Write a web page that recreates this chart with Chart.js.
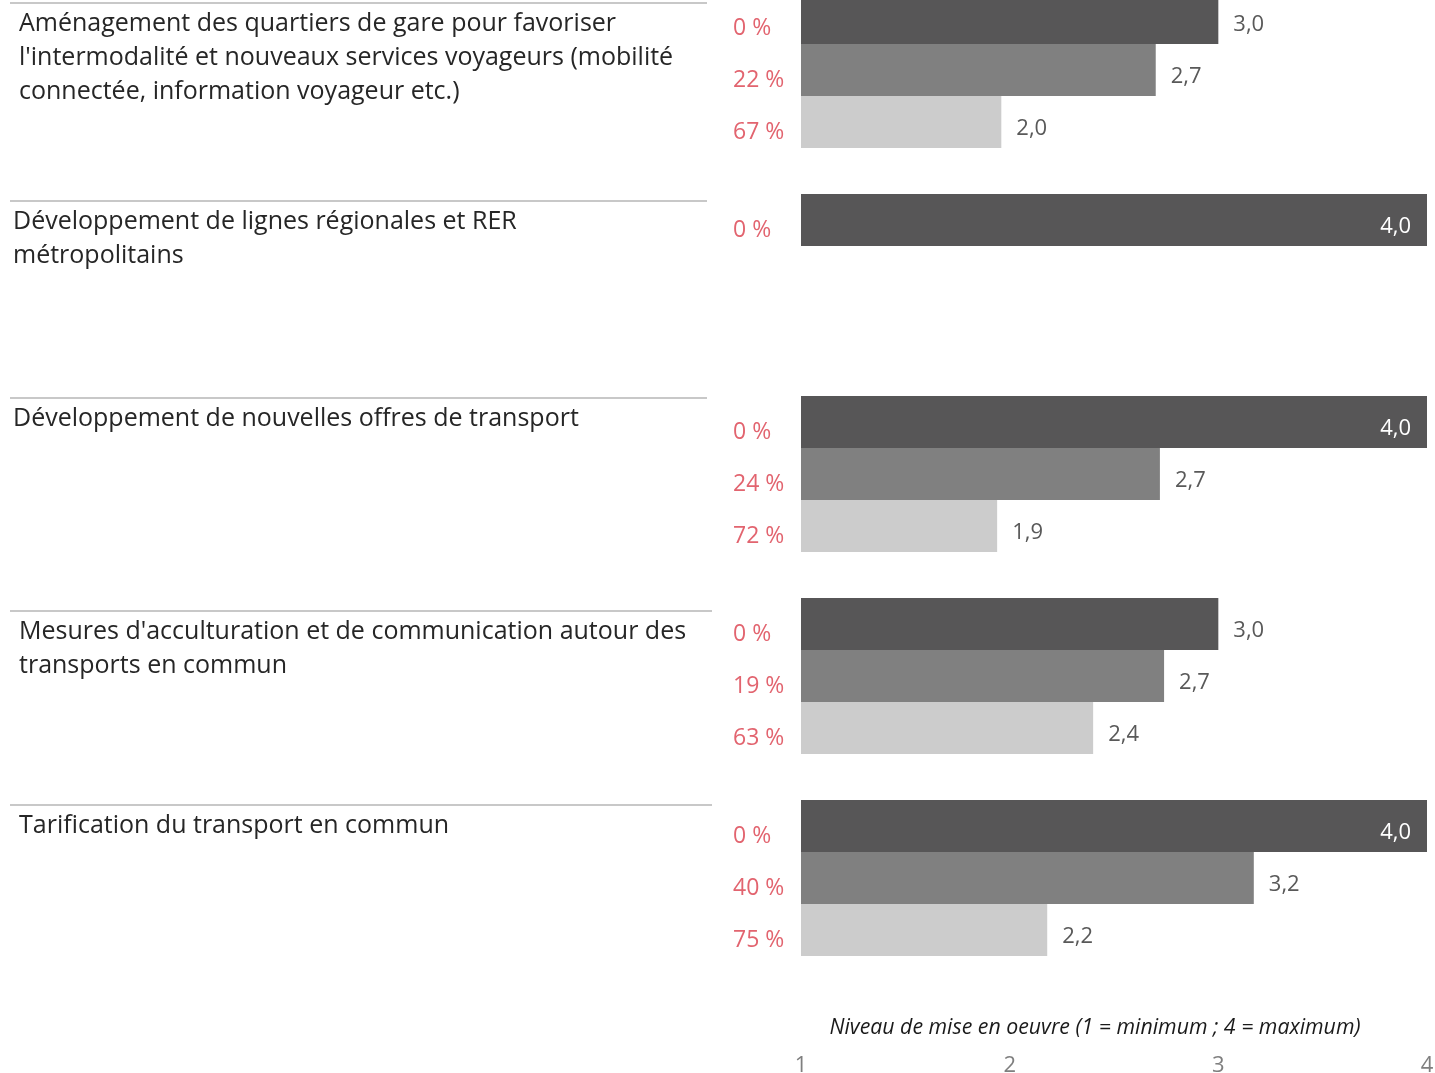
<!DOCTYPE html>
<html>
<head>
<meta charset="utf-8">
<script src="https://cdn.jsdelivr.net/npm/chart.js@4.4.1/dist/chart.umd.min.js"></script>
<style>
  html, body { margin: 0; padding: 0; background: #fff; overflow: hidden; }
  #wrap { position: relative; width: 1435px; height: 1073px; overflow: hidden; }
  #chart { position: absolute; left: 0; top: -31px; }
</style>
</head>
<body>
<div id="wrap"><canvas id="chart" width="1435" height="1104"></canvas></div>
<script>
// categories (already wrapped the way the original shows them)
const categories = [
  ["Aménagement des quartiers de gare pour favoriser", "l'intermodalité et nouveaux services voyageurs (mobilité", "connectée, information voyageur etc.)"],
  ["Développement de lignes régionales et RER", "métropolitains"],
  ["Développement de nouvelles offres de transport"],
  ["Mesures d'acculturation et de communication autour des", "transports en commun"],
  ["Tarification du transport en commun"]
];
// implementation level, one value per category
const seriesDark = [3.0, 4.0, 4.0, 3.0, 4.0];
const seriesMid = [2.70, null, 2.72, 2.74, 3.17];
const seriesLight = [1.96, null, 1.94, 2.40, 2.18];
// percentages shown left of each bar
const pctDark = [0, 0, 0, 0, 0];
const pctMid = [22, null, 24, 19, 40];
const pctLight = [67, null, 72, 63, 75];
const xTicks = [1, 2, 3, 4];
const xTitle = "Niveau de mise en oeuvre (1 = minimum ; 4 = maximum)";

const FONT = "'Open Sans', 'Noto Sans', sans-serif";
const pcts = [pctDark, pctMid, pctLight];

// small per-row nudges for the separator line above each label
const lineDy = [-67, -71, -76, -65, -73];
const labelX = [19, 13, 13, 19, 19];

const fmt = v => v.toFixed(1).replace('.', ',');

const labelsPlugin = {
  id: 'labels',
  afterDatasetsDraw(chart) {
    const ctx = chart.ctx;
    const xMax = chart.scales.x.max;
    ctx.save();
    ctx.textBaseline = 'middle';
    chart.data.datasets.forEach((ds, di) => {
      const meta = chart.getDatasetMeta(di);
      meta.data.forEach((bar, i) => {
        const v = ds.data[i];
        if (v == null) return;
        // percentage on the left
        ctx.font = '23px ' + FONT;
        ctx.fillStyle = '#e2646f';
        ctx.textAlign = 'left';
        ctx.fillText(pcts[di][i] + ' %', 733, bar.y + 10);
        // value at the end of the bar
        ctx.font = '22px ' + FONT;
        if (v >= xMax) {
          ctx.fillStyle = '#ffffff';
          ctx.textAlign = 'right';
          ctx.fillText(fmt(v), bar.x - 16, bar.y + 7);
        } else {
          ctx.fillStyle = '#595959';
          ctx.textAlign = 'left';
          ctx.fillText(fmt(v), bar.x + 15, bar.y + 7);
        }
      });
    });
    ctx.restore();
  },
  afterDraw(chart) {
    const ctx = chart.ctx;
    const y = chart.scales.y;
    ctx.save();
    categories.forEach((lines, i) => {
      const top = y.getPixelForValue(i) + lineDy[i];
      ctx.strokeStyle = '#c8c8c8';
      ctx.lineWidth = 2;
      ctx.beginPath();
      ctx.moveTo(10, top);
      ctx.lineTo(i >= 3 ? 712 : 707, top);
      ctx.stroke();
      ctx.fillStyle = '#262626';
      ctx.font = '25px ' + FONT;
      ctx.textAlign = 'left';
      ctx.textBaseline = 'middle';
      lines.forEach((t, k) => ctx.fillText(t, labelX[i], top + 21 + k * 34));
    });
    // axis title sits between the bars and the tick labels
    ctx.font = 'italic 21.3px ' + FONT;
    ctx.fillStyle = '#1a1a1a';
    ctx.textAlign = 'center';
    ctx.textBaseline = 'middle';
    ctx.fillText(xTitle, 1095, chart.chartArea.bottom + 49);
    ctx.restore();
  }
};

new Chart(document.getElementById('chart'), {
  type: 'bar',
  data: {
    labels: categories,
    datasets: [
      { label: 'Série 1', data: seriesDark, backgroundColor: '#575657' },
      { label: 'Série 2', data: seriesMid, backgroundColor: '#808080' },
      { label: 'Série 3', data: seriesLight, backgroundColor: '#cccccc' }
    ]
  },
  options: {
    indexAxis: 'y',
    responsive: false,
    animation: false,
    devicePixelRatio: 1,
    layout: { padding: { left: 801, right: 8, top: 0, bottom: 0 } },
    datasets: { bar: { categoryPercentage: 156 / 202, barPercentage: 1, borderWidth: 0 } },
    plugins: { legend: { display: false }, tooltip: { enabled: false } },
    scales: {
      y: { display: false },
      x: {
        min: xTicks[0],
        max: xTicks[xTicks.length - 1],
        afterBuildTicks: s => { s.ticks = xTicks.map(v => ({ value: v })); },
        afterFit: s => { s.height = 94; s.paddingLeft = 0; s.paddingRight = 0; },
        grid: { display: false, drawTicks: false },
        border: { display: false },
        ticks: {
          padding: 74,
          color: '#7f7f7f',
          font: { family: FONT, size: 22 },
          maxRotation: 0,
          autoSkip: false
        }
      }
    }
  },
  plugins: [labelsPlugin]
});
</script>
</body>
</html>
